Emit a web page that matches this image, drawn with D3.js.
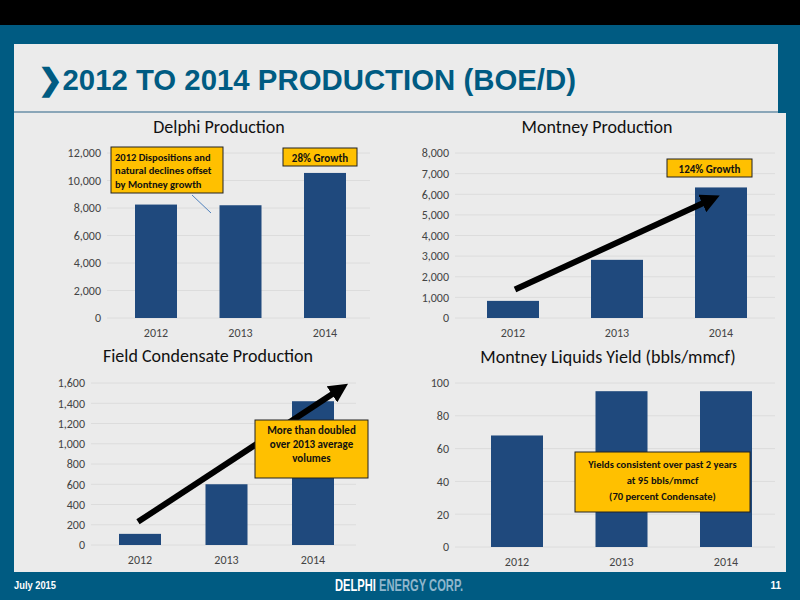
<!DOCTYPE html><html><head><meta charset="utf-8"><script src="https://cdn.jsdelivr.net/npm/d3@7"></script>
<style>body{margin:0}svg{display:block}</style></head><body><svg id="s" width="800" height="600"></svg>
<script>
const years=["2012","2013","2014"];
const delphiValues=[8250,8200,10550];
const montneyValues=[830,2820,6330];
const condensateValues=[110,600,1420];
const yieldValues=[68,95,95];
const delphiTicks=[0,2000,4000,6000,8000,10000,12000];
const montneyTicks=[0,1000,2000,3000,4000,5000,6000,7000,8000];
const condTicks=[0,200,400,600,800,1000,1200,1400,1600];
const yieldTicks=[0,20,40,60,80,100];
const svg=d3.select("#s");
const blue="#005b82",bar="#1f497d",font="Carlito, Liberation Sans, Arial";
svg.append("rect").attr("width",800).attr("height",600).attr("fill",blue);
svg.append("rect").attr("width",800).attr("height",25).attr("fill","#000");
svg.append("rect").attr("x",14).attr("y",44).attr("width",764).attr("height",68).attr("fill","#ebebeb");
svg.append("rect").attr("x",14).attr("y",113).attr("width",772).attr("height",459).attr("fill","#ebebeb");
svg.append("line").attr("x1",14).attr("x2",778).attr("y1",112).attr("y2",112).attr("stroke","#8aa6b8").attr("stroke-width",2);
svg.append("text").attr("x",38).attr("y",90).attr("fill",blue).attr("font-family","Liberation Sans Narrow, Liberation Sans, Arial").attr("font-weight","bold").attr("font-size",30).attr("textLength",538).attr("lengthAdjust","spacingAndGlyphs").text("\u276F2012 TO 2014 PRODUCTION (BOE/D)");
svg.append("text").attr("x",14).attr("y",589).attr("fill","#fff").attr("font-family","Liberation Sans Narrow, Liberation Sans").attr("font-weight","bold").attr("font-size",10).attr("textLength",42).attr("lengthAdjust","spacingAndGlyphs").text("July 2015");
svg.append("text").attr("x",781).attr("y",589).attr("fill","#fff").attr("font-family","Liberation Sans").attr("font-weight","bold").attr("font-size",10).attr("text-anchor","end").text("11");
const ft=svg.append("text").attr("x",335).attr("y",591).attr("font-family","Liberation Sans Narrow, Liberation Sans").attr("font-weight","bold").attr("font-size",17).attr("textLength",128).attr("lengthAdjust","spacingAndGlyphs");
ft.append("tspan").attr("fill","#fff").text("DELPHI ");
ft.append("tspan").attr("fill","#8fb6cc").text("ENERGY CORP.");

svg.append("defs").append("marker").attr("id","ah").attr("viewBox","0 0 10 10").attr("refX",5).attr("refY",5)
 .attr("markerWidth",3.2).attr("markerHeight",3.2).attr("orient","auto").append("path").attr("d","M0,0L10,5L0,10z").attr("fill","#000");

function chart(o){
  const x=d3.scalePoint().domain(years).range([o.x0,o.x1]);
  const y=d3.scaleLinear().domain([0,o.ticks[o.ticks.length-1]]).range([o.y0,o.y1]);
  const g=svg.append("g");
  const ax=g.append("g").attr("transform",`translate(${o.ax},0)`).call(d3.axisLeft(y).tickValues(o.ticks).tickFormat(d3.format(",")).tickSize(0).tickPadding(6));
  ax.select(".domain").remove();
  ax.selectAll("text").attr("font-family",font).attr("font-size",12).attr("fill","#444");
  g.selectAll(".gl").data(o.ticks).join("line").attr("x1",o.ax).attr("x2",o.ax2).attr("y1",d=>y(d)).attr("y2",d=>y(d)).attr("stroke","#dcdcdc");
  g.selectAll(".b").data(o.vals).join("rect").attr("x",(d,i)=>x(years[i])-o.bw/2).attr("width",o.bw).attr("y",d=>y(d)).attr("height",d=>o.y0-y(d)).attr("fill",bar);
  g.selectAll(".xl").data(years).join("text").attr("x",d=>x(d)).attr("y",o.y0+19).attr("text-anchor","middle").attr("font-family",font).attr("font-size",12).attr("fill","#444").text(d=>d);
  g.append("text").attr("x",o.tx).attr("y",o.ty).attr("text-anchor","middle").attr("font-family",font).attr("font-size",18).attr("fill","#111").text(o.title);
  return {x,y};
}
function box(x,y,w,h,lines,fs,anchor,lh){
  svg.append("rect").attr("x",x).attr("y",y).attr("width",w).attr("height",h).attr("fill","#ffc000").attr("stroke","#222").attr("stroke-width",1);
  lines.forEach((t,i)=>svg.append("text").attr("x",anchor==="start"?x+4:x+w/2).attr("y",y+(lh||13)*(i+1)).attr("text-anchor",anchor||"middle").attr("font-family",font).attr("font-weight","bold").attr("font-size",fs).attr("fill","#111").text(t));
}
function arrow(x1,y1,x2,y2){svg.append("line").attr("x1",x1).attr("y1",y1).attr("x2",x2).attr("y2",y2).attr("stroke","#000").attr("stroke-width",6).attr("marker-end","url(#ah)");}

const a=chart({vals:delphiValues,ticks:delphiTicks,x0:156,x1:325,y0:318,y1:153,ax:107,ax2:370,bw:42,title:"Delphi Production",tx:219,ty:133});
const b=chart({vals:montneyValues,ticks:montneyTicks,x0:513,x1:721,y0:318,y1:153,ax:455,ax2:775,bw:52,title:"Montney Production",tx:597,ty:133});
const c=chart({vals:condensateValues,ticks:condTicks,x0:140,x1:313,y0:545,y1:383,ax:91,ax2:356,bw:42,title:"Field Condensate Production",tx:208,ty:362});
const d=chart({vals:yieldValues,ticks:yieldTicks,x0:517,x1:726,y0:547,y1:383,ax:455,ax2:775,bw:52,title:"Montney Liquids Yield (bbls/mmcf)",tx:608,ty:363});

box(111,147,112,46,["2012 Dispositions and","natural declines offset","by Montney growth"],10.5,"start",13.5);
box(283,148,74,18,["28% Growth"],11,"middle",13.5);
svg.append("line").attr("x1",192).attr("y1",195).attr("x2",211).attr("y2",213).attr("stroke","#4f81bd").attr("stroke-width",1);
box(667,159,85,18,["124% Growth"],11,"middle",13.5);
arrow(b.x("2012")+2,b.y(700)-14,b.x("2014")-10,b.y(6330)+12);
arrow(c.x("2012")-2,c.y(110)-12,c.x("2014")+27,c.y(1540));
box(255,420,113,58,["More than doubled","over 2013 average","volumes"],11,"middle",14);
box(575,452,175,60,["Yields consistent over past 2 years","at 95 bbls/mmcf","(70 percent Condensate)"],10.5,"middle",16);
</script></body></html>
